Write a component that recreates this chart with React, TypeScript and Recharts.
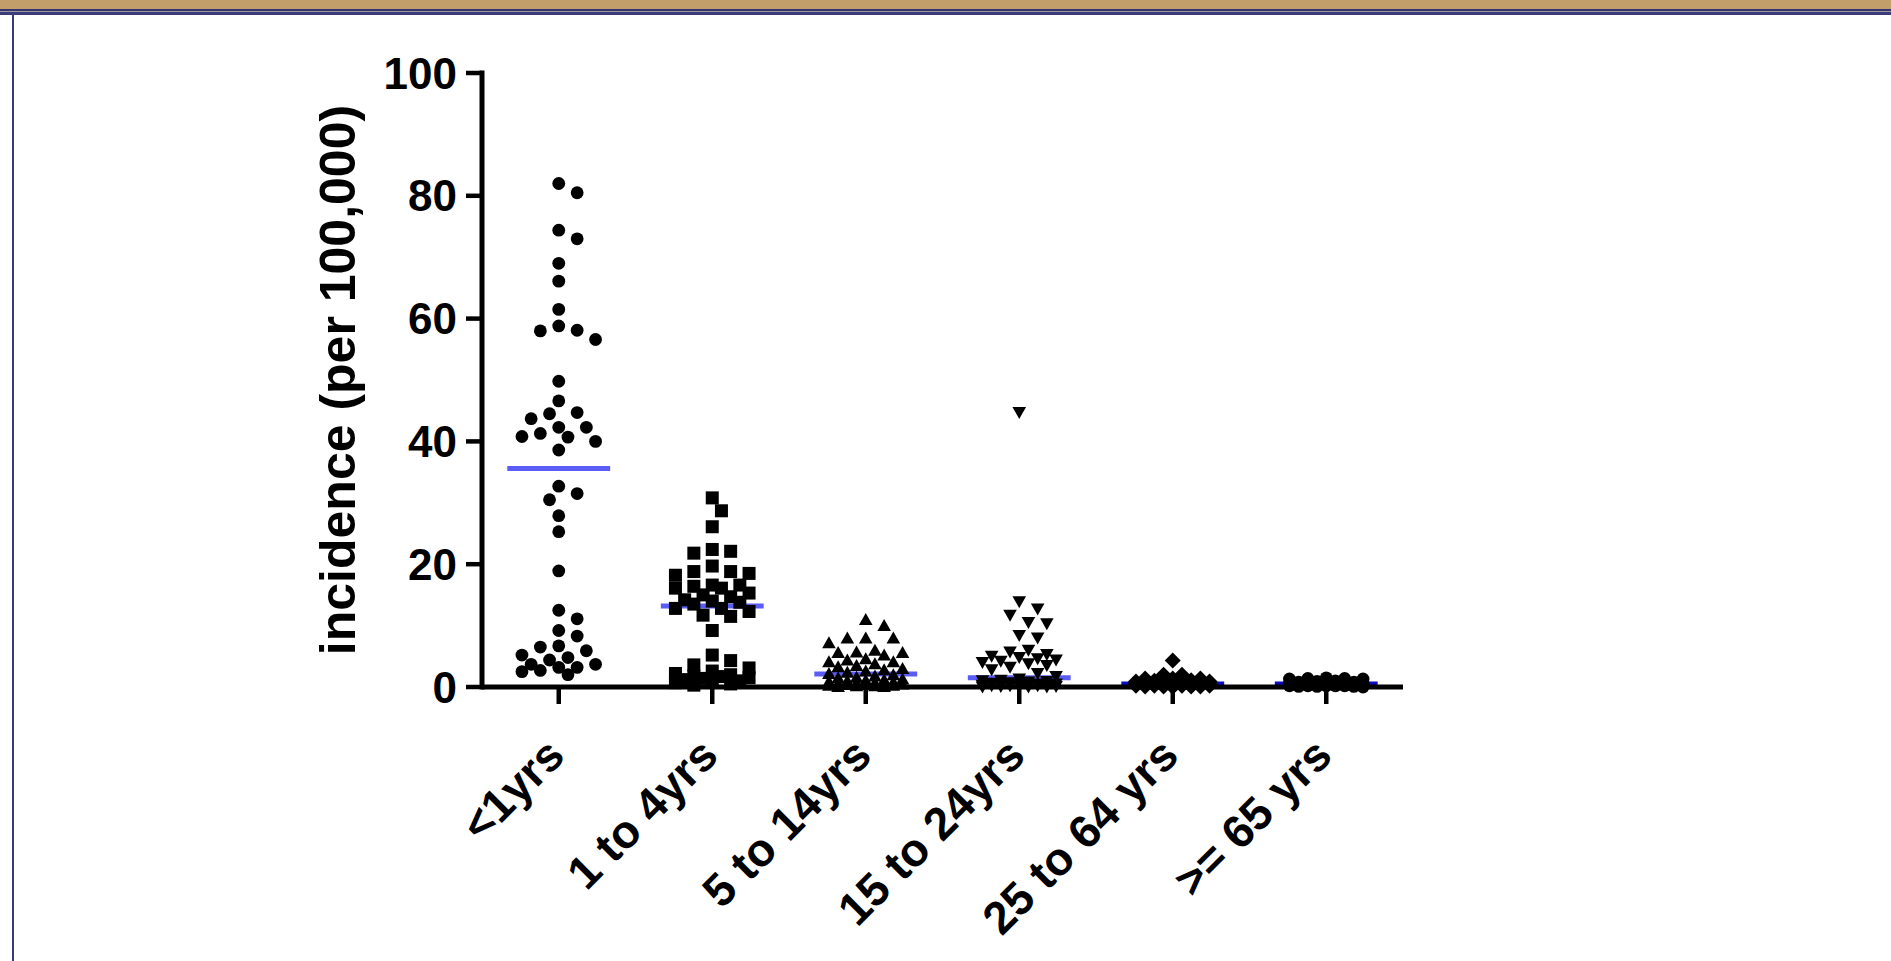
import { ScatterChart, Scatter, XAxis, YAxis, ReferenceLine } from 'recharts';

const categories = ['<1yrs', '1 to 4yrs', '5 to 14yrs', '15 to 24yrs', '25 to 64 yrs', '>= 65 yrs'];
const yTicks = [0, 20, 40, 60, 80, 100];

const under1 = [
  82.0, 80.5, 74.4, 73.0, 69.0, 66.1, 61.5, 58.8, 58.0, 58.1, 56.6, 49.8, 46.6, 44.7, 44.5, 43.7,
  42.3, 42.3, 40.8, 41.3, 40.7, 40.0, 38.6, 32.7, 31.5, 30.5, 27.9, 25.3, 18.9, 12.5, 11.1, 9.2,
  8.3, 6.7, 6.5, 5.9, 4.8, 5.2, 4.4, 3.7, 3.7, 3.2, 3.2, 2.7, 2.5, 2.0,
];
const age1to4 = [
  30.8, 28.7, 26.1, 22.4, 22.1, 21.8, 19.7, 18.8, 18.8, 18.5, 18.2, 16.6, 16.6, 16.4, 16.1, 16.1,
  15.3, 15.0, 14.7, 14.2, 14.0, 13.8, 13.5, 12.8, 12.8, 12.3, 11.7, 11.5, 9.2, 5.2, 4.3, 3.6,
  3.1, 2.6, 2.2, 2.0, 1.8, 1.7, 1.5, 1.4, 1.2, 1.0, 0.9, 0.7, 0.5, 0.3,
];
const age5to14 = [
  11.0, 10.0, 8.0, 8.0, 8.0, 7.2, 6.0, 5.7, 5.6, 5.6, 5.2, 4.6, 4.4, 4.1, 4.1, 3.8,
  3.5, 3.3, 3.0, 2.8, 2.6, 2.4, 2.2, 2.0, 1.8, 1.6, 1.5, 1.3, 1.2, 1.1, 1.0, 0.9,
  0.8, 0.7, 0.7, 0.6, 0.5, 0.5, 0.4, 0.4, 0.3, 0.3, 0.2, 0.2, 0.1, 0.1,
];
const age15to24 = [
  44.7, 13.9, 12.7, 11.7, 10.5, 10.3, 8.4, 8.0, 6.0, 5.7, 5.3, 5.0, 4.8, 4.6, 4.4, 4.2,
  4.0, 3.8, 3.5, 3.2, 2.8, 2.2, 1.7, 1.3, 1.1, 1.0, 0.9, 0.8, 0.7, 0.6, 0.5, 0.5,
  0.4, 0.4, 0.3, 0.3, 0.3, 0.2, 0.2, 0.2, 0.1, 0.1, 0.1, 0.0, 0.0, 0.0,
];
const age25to64 = [
  4.3, 2.0, 2.0, 1.4, 1.4, 1.4, 1.1, 1.0, 0.9, 0.9, 0.8, 0.8, 0.7, 0.7, 0.7, 0.6,
  0.6, 0.6, 0.6, 0.6, 0.5, 0.5, 0.5, 0.5, 0.5, 0.4, 0.4, 0.4, 0.4, 0.4, 0.3, 0.3,
  0.3, 0.3, 0.3, 0.3, 0.2, 0.2, 0.2, 0.2, 0.2, 0.1, 0.1, 0.1, 0.1, 0.0,
];
const age65plus = [
  1.5, 1.4, 1.4, 1.3, 1.3, 1.0, 0.9, 0.8, 0.8, 0.7, 0.7, 0.7, 0.6, 0.6, 0.6, 0.6,
  0.6, 0.5, 0.5, 0.5, 0.5, 0.5, 0.5, 0.5, 0.5, 0.4, 0.4, 0.4, 0.4, 0.4, 0.4, 0.3,
  0.3, 0.3, 0.3, 0.3, 0.3, 0.2, 0.2, 0.2, 0.2, 0.2, 0.1, 0.1, 0.1, 0.0,
];
const medians = [35.6, 13.2, 2.1, 1.5, 0.5, 0.5];

const groups = [under1, age1to4, age5to14, age15to24, age25to64, age65plus];
const markerKinds = ['circle', 'square', 'up', 'down', 'diamond', 'circle'];
const medianColors = ['#5b5bf6', '#5b5bf6', '#5b5bf6', '#5b5bf6', '#0b0bc0', '#0b0bc0'];

// chart frame
const W = 1891;
const H = 961;
const PLOT = { left: 482, top: 73, right: 1403, bottom: 687 };
const Y_AXIS_W = 100;
const X_AXIS_H = 100;
const FONT = "'Liberation Sans', Arial, Helvetica, sans-serif";

// column scatter spread (Prism-style), worked out in pixels
const PX_PER_UNIT = (PLOT.bottom - PLOT.top) / 100;
const BAND_PX = (PLOT.right - PLOT.left) / categories.length;
const LANE_PX = 9.2;
const LANES = 4;
const MIN_GAP = 15;

function swarmOffsets(values: number[]) {
  const order = values.map((_, i) => i).sort((a, b) => values[b] - values[a]);
  const lanes = [0];
  for (let k = 1; k <= LANES; k++) lanes.push(k, -k);
  const placed: { x: number; y: number }[] = [];
  const out = new Array(values.length).fill(0);
  for (const i of order) {
    const y = values[i] * PX_PER_UNIT;
    let pick = 0;
    let pickGap = -1;
    for (const l of lanes) {
      const x = l * LANE_PX;
      let gap = Infinity;
      for (const p of placed) gap = Math.min(gap, Math.hypot(p.x - x, p.y - y));
      if (gap >= MIN_GAP) {
        pick = l;
        break;
      }
      if (gap > pickGap) {
        pickGap = gap;
        pick = l;
      }
    }
    placed.push({ x: pick * LANE_PX, y });
    out[i] = (pick * LANE_PX) / BAND_PX;
  }
  return out;
}

const seriesData = groups.map((vals, gi) => {
  const off = swarmOffsets(vals);
  return vals.map((v, j) => ({ x: gi + 1 + off[j], y: v }));
});

function Marker({ cx, cy, kind }: { cx: number; cy: number; kind: string }) {
  if (cx == null || cy == null) return null;
  if (kind === 'square') return <rect x={cx - 6.5} y={cy - 6.5} width={13} height={13} fill="#000" />;
  if (kind === 'up')
    return <polygon points={`${cx},${cy - 6.5} ${cx + 6.8},${cy + 5.5} ${cx - 6.8},${cy + 5.5}`} fill="#000" />;
  if (kind === 'down')
    return <polygon points={`${cx},${cy + 6.5} ${cx + 6.8},${cy - 5.5} ${cx - 6.8},${cy - 5.5}`} fill="#000" />;
  if (kind === 'diamond')
    return <polygon points={`${cx},${cy - 8} ${cx + 8},${cy} ${cx},${cy + 8} ${cx - 8},${cy}`} fill="#000" />;
  return <circle cx={cx} cy={cy} r={6.4} fill="#000" />;
}

function AgeTick({ x, y, payload }: any) {
  const ax = x + 8;
  const ay = y + 52;
  return (
    <text
      x={ax}
      y={ay}
      transform={`rotate(-45 ${ax} ${ay})`}
      textAnchor="end"
      fontFamily={FONT}
      fontWeight="bold"
      fontSize={46}
      fill="#000"
    >
      {categories[payload.value - 1]}
    </text>
  );
}

function YTitle(props: any) {
  const vb = props.viewBox || { x: 382, y: 73, width: 100, height: 614 };
  const tx = vb.x - 27;
  const ty = vb.y + vb.height / 2;
  return (
    <text
      x={tx}
      y={ty}
      transform={`rotate(-90 ${tx} ${ty})`}
      textAnchor="middle"
      fontFamily={FONT}
      fontWeight="bold"
      fontSize={50}
      fill="#000"
    >
      incidence (per 100,000)
    </text>
  );
}

export default function App() {
  return (
    <div style={{ position: 'fixed', left: 0, top: 0, width: W, height: H, background: '#fff', overflow: 'hidden' }}>
      {/* slide frame */}
      <div style={{ position: 'absolute', left: 0, top: 0, width: W, height: 9, background: '#c29e6b' }} />
      <div style={{ position: 'absolute', left: 0, top: 9, width: W, height: 2, background: '#34346e' }} />
      <div style={{ position: 'absolute', left: 0, top: 11, width: W, height: 1, background: '#9c9a9a' }} />
      <div style={{ position: 'absolute', left: 0, top: 12, width: W, height: 3, background: '#3a3a7c' }} />
      <div style={{ position: 'absolute', left: 12, top: 15, width: 2, height: H - 15, background: '#3a3a7c' }} />

      <div style={{ position: 'absolute', left: 0, top: 0 }}>
        <ScatterChart
          width={W}
          height={H}
          margin={{
            top: PLOT.top,
            right: W - PLOT.right,
            bottom: H - PLOT.bottom - X_AXIS_H,
            left: PLOT.left - Y_AXIS_W,
          }}
        >
          <XAxis
            type="number"
            dataKey="x"
            domain={[0.5, categories.length + 0.5]}
            ticks={categories.map((_, i) => i + 1)}
            interval={0}
            height={X_AXIS_H}
            tick={<AgeTick />}
            tickSize={17}
            axisLine={{ stroke: '#000', strokeWidth: 5 }}
            tickLine={{ stroke: '#000', strokeWidth: 4.5 }}
            allowDataOverflow
          />
          <YAxis
            type="number"
            dataKey="y"
            domain={[0, 100]}
            ticks={yTicks}
            interval={0}
            width={Y_AXIS_W}
            tickSize={16}
            tickMargin={9}
            axisLine={{ stroke: '#000', strokeWidth: 5, strokeLinecap: 'square' }}
            tickLine={{ stroke: '#000', strokeWidth: 4.5 }}
            tick={{ fill: '#000', fontFamily: FONT, fontWeight: 'bold', fontSize: 44 }}
            label={YTitle}
          />
          {seriesData.map((d, gi) => (
            <Scatter
              key={categories[gi]}
              data={d}
              isAnimationActive={false}
              shape={(p: any) => <Marker cx={p.cx} cy={p.cy} kind={markerKinds[gi]} />}
            />
          ))}
          {medians.map((m, gi) => (
            <ReferenceLine
              key={'med' + gi}
              segment={[
                { x: gi + 1 - 0.335, y: m },
                { x: gi + 1 + 0.335, y: m },
              ]}
              stroke={medianColors[gi]}
              strokeWidth={5}
              ifOverflow="visible"
            />
          ))}
        </ScatterChart>
      </div>
    </div>
  );
}
